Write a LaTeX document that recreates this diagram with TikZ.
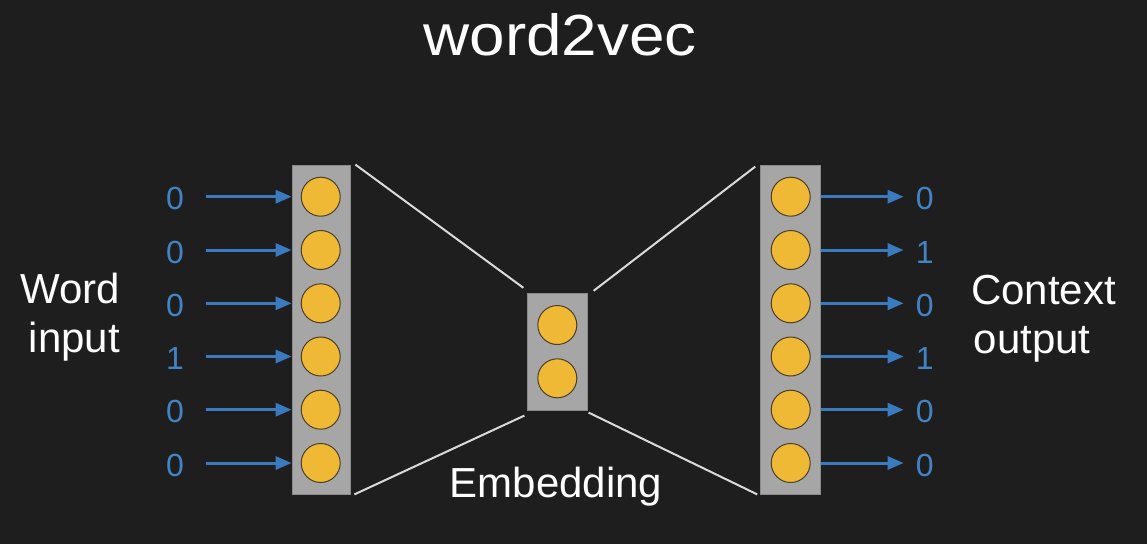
\documentclass[tikz,border=0pt]{standalone}
\usepackage{fontspec}
\setmainfont{Liberation Sans}
\usetikzlibrary{arrows.meta}
\definecolor{bg}{HTML}{1E1E1E}
\definecolor{boxgray}{HTML}{A6A6A6}
\definecolor{boxedge}{HTML}{8A8A8A}
\definecolor{unit}{HTML}{F0B935}
\definecolor{unitedge}{HTML}{4A3E26}
\definecolor{arrblue}{HTML}{3A7BBF}
\definecolor{digblue}{HTML}{4283C4}
\definecolor{wire}{HTML}{DADADA}
\tikzset{
  layer/.style={draw=boxedge,line width=0.8pt,fill=boxgray,inner sep=0pt},
  unitnode/.style={circle,draw=unitedge,line width=1pt,fill=unit,minimum size=39pt,inner sep=0pt},
  digit/.style={text=digblue,font=\fontsize{32}{36}\selectfont,inner sep=0pt},
  bigtext/.style={text=white,font=\fontsize{42}{48}\selectfont,inner sep=0pt},
  arr/.style={draw=arrblue,line width=3pt,-{Triangle[length=16pt,width=13pt]}},
  wireline/.style={draw=wire,line width=2pt}
}
\begin{document}
\begin{tikzpicture}[x=1pt,y=-1pt]
\useasboundingbox[fill=bg] (0,0) rectangle (1147,544);
% title
\node[text=white,font=\fontsize{58}{64}\selectfont,inner sep=0pt,anchor=base,xscale=1.1,transform shape] (title) at (560,55) {word2vec};
% layers
\node[layer,minimum width=58pt,minimum height=329pt] (L) at (321,329.5) {};
\node[layer,minimum width=59.5pt,minimum height=117pt] (M) at (557.5,351.7) {};
\node[layer,minimum width=59.5pt,minimum height=329pt] (R) at (790.4,329.5) {};
% units
\foreach \i/\y in {1/196.7,2/250,3/303.3,4/356.5,5/409.7,6/463}{
  \node[unitnode] (l\i) at (320.7,\y) {};
  \node[unitnode] (r\i) at (790.7,\y) {};
}
\node[unitnode] (m1) at (557.3,325) {};
\node[unitnode] (m2) at (557.3,378.3) {};
% input digits and arrows
\foreach \i/\y/\d in {1/196.7/0,2/250/0,3/303.3/0,4/356.5/1,5/409.7/0,6/463/0}{
  \node[digit] (in\i) at (175,\y+2) {\d};
  \draw[arr] ([xshift=22pt]in\i.east |- l\i) -- (L.west |- l\i);
}
\foreach \i/\y/\d in {1/196.7/0,2/250/1,3/303.3/0,4/356.5/1,5/409.7/0,6/463/0}{
  \node[digit] (out\i) at (924.7,\y+2) {\d};
  \draw[arr] (R.east |- r\i) -- ([xshift=-12pt]out\i.west |- r\i);
}
% wires
\draw[wireline] ([shift={(5,0)}]L.north east) -- ([shift={(-4,-5)}]M.north west);
\draw[wireline] ([shift={(4,0)}]L.south east) -- ([shift={(-3,5)}]M.south west);
\draw[wireline] ([shift={(6,-2)}]M.north east) -- ([shift={(-5,2)}]R.north west);
\draw[wireline] ([shift={(1,2)}]M.south east) -- ([shift={(-3,0)}]R.south west);
% labels
\node[bigtext,anchor=base west] (word) at (20,303) {Word};
\node[bigtext,anchor=base west] (inp) at (28.5,352) {input};
\node[bigtext,anchor=base west] (ctx) at (971,304) {Context};
\node[bigtext,anchor=base west] (outp) at (973.5,353) {output};
\node[bigtext,anchor=base] (emb) at (556,497) {Embedding};
\end{tikzpicture}
\end{document}
